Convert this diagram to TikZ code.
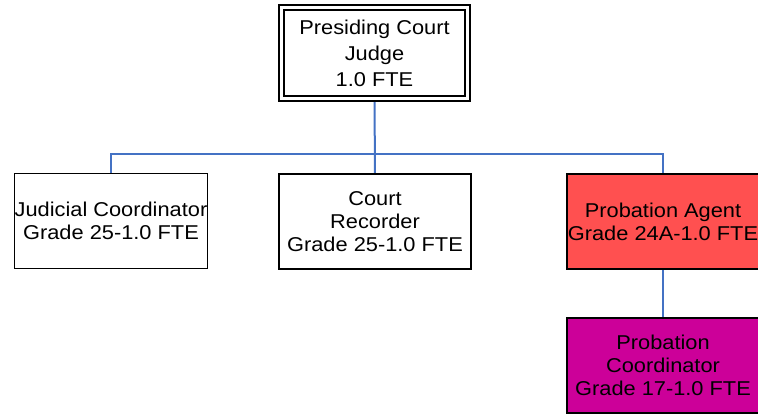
\documentclass[tikz,border=0pt]{standalone}
\usepackage{fontspec}
\setmainfont{Liberation Sans}[FakeStretch=1.09]
\usetikzlibrary{backgrounds}
\definecolor{conn}{RGB}{68,114,196}
\definecolor{agentred}{RGB}{255,80,80}
\definecolor{coordmag}{RGB}{204,0,153}
\tikzset{
  orgbox/.style={draw=black, line width=1.5pt, inner sep=0pt, outer sep=0pt,
    minimum width=192pt, minimum height=95pt, align=center,
    font=\fontsize{20pt}{23pt}\selectfont},
  topbox/.style={draw=black, line width=1.5pt, double, double distance=3.5pt,
    inner sep=0pt, outer sep=0pt, minimum width=186pt, minimum height=91pt,
    align=center, font=\fontsize{20pt}{26pt}\selectfont},
  connector/.style={draw=conn, line width=2pt}
}
\begin{document}
\begin{tikzpicture}[x=1pt,y=-1pt]
\useasboundingbox (0,0) rectangle (758,415);
\node[topbox] (judge) at (374.5,53) {Presiding Court\\Judge\\1.0 FTE};
\node[orgbox] (jc) at (111,221) {Judicial Coordinator\\Grade 25-1.0 FTE};
\node[orgbox] (cr) at (375,221.5) {Court\\Recorder\\Grade 25-1.0 FTE};
\node[orgbox, fill=agentred] (pa) at (663,221.5) {Probation Agent\\Grade 24A-1.0 FTE};
\node[orgbox, fill=coordmag] (pc) at (663,365.5) {Probation\\Coordinator\\Grade 17-1.0 FTE};
\coordinate (bus) at (0,154);
\begin{scope}[on background layer]
\draw[connector] (judge.south) -- (cr.north);
\draw[connector] (jc.north) -- (jc.north |- bus) -- (pa.north |- bus) -- (pa.north);
\draw[connector] (pa.south) -- (pc.north);
\end{scope}
\end{tikzpicture}
\end{document}
